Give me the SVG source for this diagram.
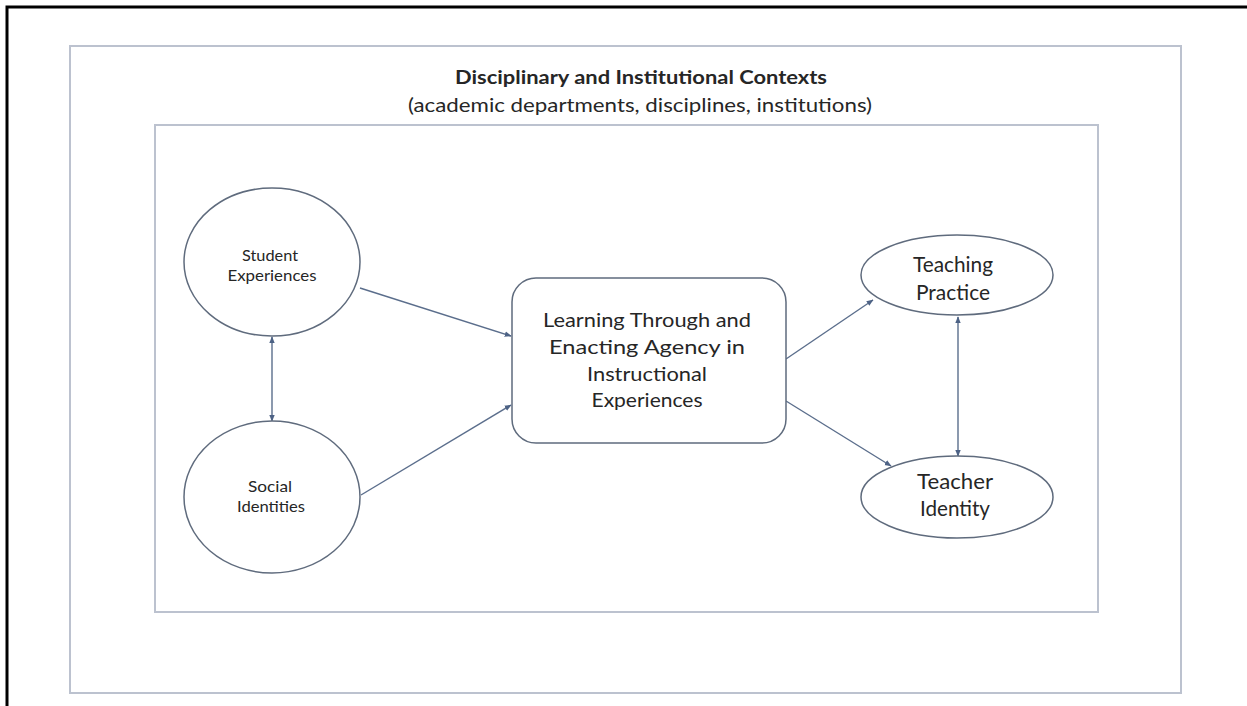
<svg xmlns="http://www.w3.org/2000/svg" width="1247" height="706" viewBox="0 0 1247 706">
  <defs>
    <style>
      .frame { stroke: #000; stroke-width: 3; fill: none; }
      .ctx { fill: none; stroke: #bcc2cf; stroke-width: 2; }
      .node { fill: #fff; stroke: #5f6b7d; stroke-width: 1.5; }
      .edge { stroke: #5b6e8c; stroke-width: 1.4; fill: none; }
      .t { font-family: Lato, "Liberation Sans", sans-serif; fill: #262626; text-anchor: middle; }
      .title { font-size: 19px; font-weight: bold; }
      .sub { font-size: 20px; }
      .small { font-size: 15px; }
      .mid { font-size: 20px; }
      .big { font-size: 21px; }
    </style>
    <marker id="arr" viewBox="0 0 10 10" refX="9" refY="5" markerWidth="7" markerHeight="7" markerUnits="userSpaceOnUse" orient="auto-start-reverse">
      <path d="M0,1 L10,5 L0,9 z" fill="#4d6285"/>
    </marker>
  </defs>

  <rect width="1247" height="706" fill="#fff"/>

  <!-- page frame (top and left rules) -->
  <path class="frame" d="M7,706 L7,7 L1247,7"/>

  <!-- context boxes -->
  <g id="contexts">
    <rect class="ctx" x="70" y="46" width="1111" height="647"/>
    <rect class="ctx" x="155" y="125" width="943" height="487"/>
    <text class="t title" x="641" y="84" textLength="372" lengthAdjust="spacingAndGlyphs">Disciplinary and Institutional Contexts</text>
    <text class="t sub" x="640" y="112" textLength="464" lengthAdjust="spacingAndGlyphs">(academic departments, disciplines, institutions)</text>
  </g>

  <!-- connectors -->
  <g id="connectors">
    <line class="edge" x1="272" y1="421" x2="272" y2="337" marker-start="url(#arr)" marker-end="url(#arr)"/>
    <line class="edge" x1="360" y1="288" x2="511" y2="336" marker-end="url(#arr)"/>
    <line class="edge" x1="361" y1="495" x2="511" y2="405" marker-end="url(#arr)"/>
    <line class="edge" x1="786" y1="359" x2="873" y2="300" marker-end="url(#arr)"/>
    <line class="edge" x1="786" y1="401" x2="891" y2="466" marker-end="url(#arr)"/>
    <line class="edge" x1="958" y1="317" x2="958" y2="456" marker-start="url(#arr)" marker-end="url(#arr)"/>
  </g>

  <g id="student-experiences">
    <ellipse class="node" cx="272" cy="262" rx="88" ry="74"/>
    <text class="t small" x="270" y="261" textLength="56" lengthAdjust="spacingAndGlyphs">Student</text>
    <text class="t small" x="272" y="281" textLength="89" lengthAdjust="spacingAndGlyphs">Experiences</text>
  </g>

  <g id="social-identities">
    <ellipse class="node" cx="272" cy="497" rx="88" ry="76"/>
    <text class="t small" x="270" y="492" textLength="44" lengthAdjust="spacingAndGlyphs">Social</text>
    <text class="t small" x="271" y="512" textLength="68" lengthAdjust="spacingAndGlyphs">Identities</text>
  </g>

  <g id="learning-agency">
    <rect class="node" x="512" y="278" width="274" height="165" rx="24"/>
    <text class="t mid" x="647" y="327" textLength="208" lengthAdjust="spacingAndGlyphs">Learning Through and</text>
    <text class="t mid" x="647" y="354" textLength="196" lengthAdjust="spacingAndGlyphs">Enacting Agency in</text>
    <text class="t mid" x="647" y="381" textLength="120" lengthAdjust="spacingAndGlyphs">Instructional</text>
    <text class="t mid" x="647" y="407" textLength="111" lengthAdjust="spacingAndGlyphs">Experiences</text>
  </g>

  <g id="teaching-practice">
    <ellipse class="node" cx="957" cy="275" rx="96" ry="40"/>
    <text class="t big" x="953" y="272" textLength="80" lengthAdjust="spacingAndGlyphs">Teaching</text>
    <text class="t big" x="953" y="300" textLength="74" lengthAdjust="spacingAndGlyphs">Practice</text>
  </g>

  <g id="teacher-identity">
    <ellipse class="node" cx="957" cy="497" rx="96" ry="41"/>
    <text class="t big" x="955" y="489" textLength="76" lengthAdjust="spacingAndGlyphs">Teacher</text>
    <text class="t big" x="955" y="516" textLength="70" lengthAdjust="spacingAndGlyphs">Identity</text>
  </g>
</svg>
